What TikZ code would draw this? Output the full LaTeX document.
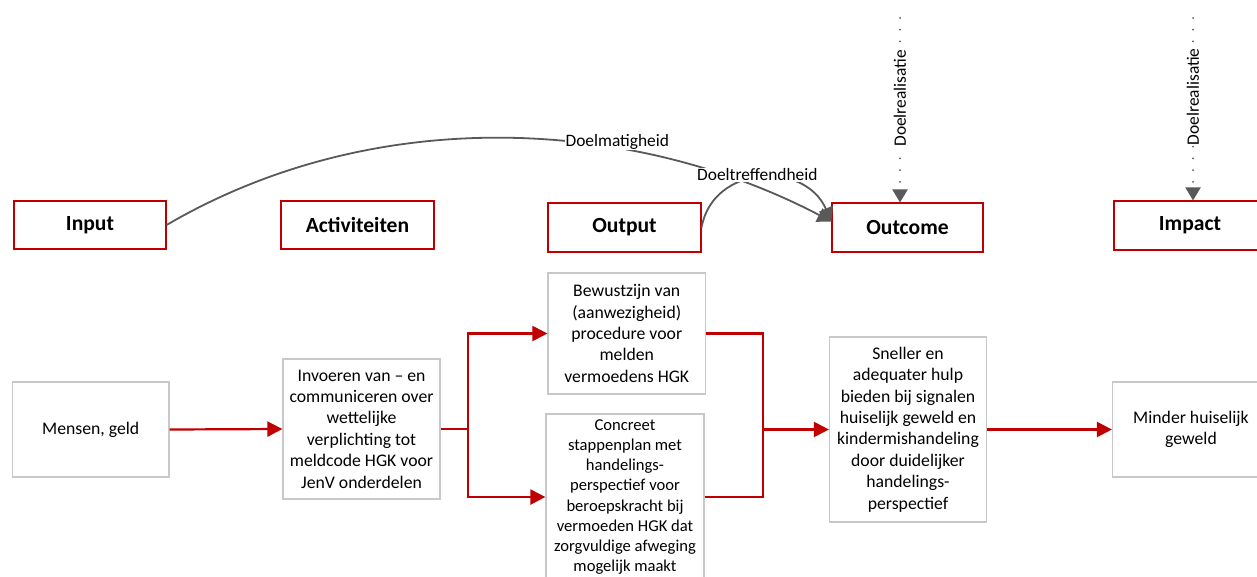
\documentclass[tikz,border=0pt]{standalone}
\usepackage{fontspec}
\setmainfont{Carlito}
\usetikzlibrary{arrows.meta}
\definecolor{hred}{HTML}{C00000}
\definecolor{bred}{HTML}{C00000}
\definecolor{gline}{HTML}{595959}
\definecolor{gbox}{HTML}{C8C8C8}
\begin{document}
\begin{tikzpicture}[x=1pt,y=-1pt,
 hdr/.style={draw=hred, line width=1.1pt, inner sep=0pt, font=\fontsize{21.6}{26}\selectfont\bfseries},
 bx/.style={draw=gbox, line width=1.2pt, inner sep=0pt, align=center, font=\fontsize{17.7}{21.4}\selectfont},
 bxs/.style={bx, font=\fontsize{16.6}{20.1}\selectfont},
 rline/.style={draw=bred, line width=2.2pt},
 rarrow/.style={rline, -{Triangle[length=15pt,width=15pt]}},
 garrow/.style={draw=gline, line width=1.8pt, -{Triangle[length=14pt,width=15pt]}},
 dotarrow/.style={draw=gline, line width=2pt, line cap=round, dash pattern=on 0pt off 11.7pt, -{Triangle[length=13pt,width=15pt]}},
 lbl/.style={fill=white, inner sep=1pt, font=\fontsize{17.4}{21}\selectfont}]
\useasboundingbox (0,0) rectangle (1257,576);
\clip (0,0) rectangle (1257,576);
\fill[white] (0,0) rectangle (1257,576);

% header row
\node[hdr, minimum width=152pt, minimum height=48pt] (inp) at (90,225) {Input};
\node[hdr, minimum width=153pt, minimum height=48pt] (act) at (357.5,225) {Activiteiten};
\node[hdr, minimum width=153pt, minimum height=49pt] (outp) at (624.5,227.5) {Output};
\node[hdr, minimum width=151pt, minimum height=49pt] (outc) at (907.5,227.5) {Outcome};
\node[hdr, minimum width=152pt, minimum height=49pt] (imp) at (1190,225.5) {Impact};

% content row
\node[bx, minimum width=156.5pt, minimum height=95pt] (mens) at (90.75,429.5) {Mensen, geld};
\node[bx, minimum width=157pt, minimum height=140pt] (inv) at (361.5,429) {Invoeren van – en\\communiceren over\\wettelijke\\verplichting tot\\meldcode HGK voor\\JenV onderdelen};
\node[bx, minimum width=157.5pt, minimum height=121pt] (bew) at (626.75,333.5) {Bewustzijn van\\(aanwezigheid)\\procedure voor\\melden\\vermoedens HGK};
\node[bxs, minimum width=158pt, minimum height=166pt] (conc) at (625,497) {Concreet\\stappenplan met\\handelings-\\perspectief voor\\beroepskracht bij\\vermoeden HGK dat\\zorgvuldige afweging\\mogelijk maakt};
\node[bx, minimum width=157pt, minimum height=185pt] (snel) at (908,429.5) {Sneller en\\adequater hulp\\bieden bij signalen\\huiselijk geweld en\\kindermishandeling\\door duidelijker\\handelings-\\perspectief};
\node[bx, minimum width=157pt, minimum height=95pt] (mind) at (1191,429.5) {Minder huiselijk\\geweld};

% red connectors
\coordinate (split) at (468,429);
\coordinate (join) at (763,429.5);
\draw[rarrow] (mens.east) -- (inv.west);
\draw[rline] (inv.east) -- (split);
\draw[rarrow] (split) |- (bew.west);
\draw[rarrow] (split) |- (conc.west);
\draw[rline] (bew.east) -| (join);
\draw[rline] (conc.east) -| (join);
\draw[rarrow] (join) -- (snel.west);
\draw[rarrow] (snel.east) -- (mind.west);

% grey curved connectors
\draw[garrow] (inp.east) .. controls +(214,-125) and +(-192,-101) .. ([yshift=6pt]outc.west);
\draw[garrow] (outp.east) .. controls +(11,-62.5) and +(-27,-61.5) .. ([yshift=6pt]outc.west);
\node[lbl] (lm) at (617.3,141.7) {Doelmatigheid};
\node[lbl] (lt) at (757.3,175) {Doeltreffendheid};

% dotted arrows
\coordinate (d1) at (900,18);
\coordinate (d2) at (1193,18);
\draw[dotarrow] (d1) -- (d1 |- outc.north);
\draw[dotarrow] (d2) -- (d2 |- imp.north);
\node[lbl, rotate=90] (r1) at (900,98.3) {Doelrealisatie};
\node[lbl, rotate=90] (r2) at (1193,96.7) {Doelrealisatie};
\end{tikzpicture}
\end{document}
